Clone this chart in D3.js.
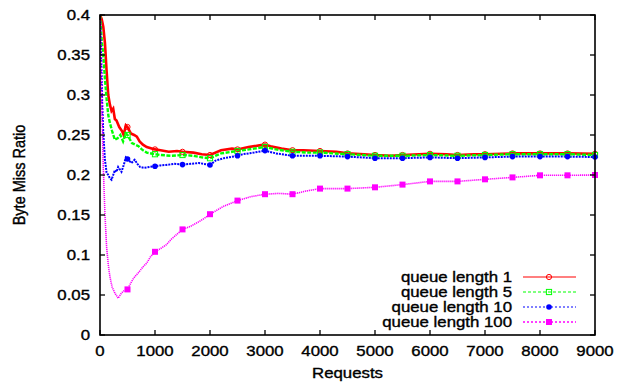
<!DOCTYPE html>
<html>
<head>
<meta charset="utf-8">
<script src="https://cdn.jsdelivr.net/npm/d3@7"></script>
<style>
  body { margin: 0; background: #fff; }
  svg { display: block; }
  text { font-family: "Liberation Sans", Arial, sans-serif; fill: #000; stroke: #000; stroke-width: 0.35px; }
</style>
</head>
<body>
<svg id="chart" width="632" height="388"></svg>
<script>
// [requests, byte miss ratio]
const queue1 = [[0,0.40],[30,0.395],[60,0.385],[90,0.365],[120,0.33],[150,0.30],[180,0.288],[210,0.28],[240,0.283],[270,0.27],[300,0.268],[350,0.26],[400,0.255],[430,0.25],[470,0.262],[500,0.26],[560,0.252],[620,0.25],[670,0.248],[720,0.242],[780,0.238],[850,0.235],[1000,0.232],[1100,0.231],[1250,0.229],[1400,0.23],[1500,0.229],[1700,0.228],[1850,0.226],[2000,0.225],[2200,0.231],[2400,0.233],[2500,0.232],[2700,0.235],[2900,0.237],[3000,0.238],[3100,0.236],[3300,0.233],[3500,0.231],[3700,0.231],[4000,0.23],[4300,0.229],[4500,0.227],[4800,0.226],[5000,0.225],[5300,0.224],[5500,0.225],[5800,0.226],[6000,0.2265],[6300,0.226],[6500,0.225],[6800,0.226],[7000,0.226],[7500,0.227],[8000,0.227],[8500,0.227],[9000,0.2265]];
const queue5 = [[0,0.40],[30,0.37],[60,0.35],[90,0.32],[120,0.295],[150,0.275],[180,0.265],[220,0.255],[270,0.244],[320,0.246],[370,0.25],[420,0.242],[470,0.252],[500,0.25],[580,0.24],[640,0.238],[700,0.236],[760,0.232],[850,0.228],[1000,0.226],[1100,0.225],[1300,0.224],[1500,0.225],[1700,0.224],[1850,0.222],[2000,0.221],[2200,0.227],[2400,0.229],[2500,0.23],[2800,0.233],[3000,0.235],[3200,0.232],[3500,0.229],[3800,0.228],[4000,0.228],[4500,0.226],[5000,0.224],[5500,0.224],[6000,0.225],[6500,0.224],[7000,0.225],[7500,0.226],[8000,0.226],[8500,0.226],[9000,0.225]];
const queue10 = [[0,0.40],[20,0.35],[40,0.29],[60,0.252],[90,0.219],[120,0.203],[150,0.20],[180,0.196],[210,0.194],[240,0.2],[270,0.206],[300,0.204],[330,0.21],[360,0.207],[390,0.204],[430,0.212],[470,0.222],[500,0.22],[570,0.215],[630,0.219],[680,0.214],[730,0.21],[800,0.209],[900,0.21],[1000,0.211],[1100,0.212],[1200,0.2125],[1350,0.214],[1500,0.213],[1650,0.214],[1800,0.215],[2000,0.2125],[2100,0.218],[2250,0.221],[2500,0.224],[2600,0.226],[2800,0.228],[3000,0.2305],[3200,0.227],[3500,0.224],[3800,0.224],[4000,0.224],[4500,0.223],[5000,0.221],[5500,0.221],[6000,0.222],[6500,0.221],[7000,0.222],[7500,0.223],[8000,0.223],[8500,0.223],[9000,0.2225]];
const queue100 = [[0,0.40],[30,0.30],[60,0.21],[90,0.152],[120,0.11],[150,0.088],[180,0.073],[220,0.06],[270,0.0525],[330,0.046],[390,0.0525],[450,0.056],[500,0.057],[560,0.065],[610,0.071],[700,0.078],[780,0.085],[850,0.09],[920,0.098],[1000,0.104],[1100,0.108],[1200,0.1125],[1300,0.12],[1400,0.126],[1500,0.132],[1650,0.136],[1800,0.1417],[1900,0.146],[2000,0.151],[2250,0.161],[2500,0.168],[2750,0.173],[3000,0.176],[3250,0.177],[3500,0.176],[3750,0.18],[4000,0.183],[4500,0.183],[5000,0.1846],[5500,0.188],[6000,0.192],[6500,0.192],[7000,0.1946],[7500,0.197],[8000,0.1996],[8500,0.1996],[9000,0.2]];

const seriesNames = ["queue length 1", "queue length 5", "queue length 10", "queue length 100"];
const xTicks = [0, 1000, 2000, 3000, 4000, 5000, 6000, 7000, 8000, 9000];
const yTicks = [0, 0.05, 0.1, 0.15, 0.2, 0.25, 0.3, 0.35, 0.4];

const series = [
  { name: seriesNames[0], data: queue1, color: "#ff0000", dash: null, width: 2.6, marker: "circle-open" },
  { name: seriesNames[1], data: queue5, color: "#00ff00", dash: "4,1.5", width: 2.4, marker: "square-open" },
  { name: seriesNames[2], data: queue10, color: "#0000ff", dash: "2,1", width: 2, marker: "circle" },
  { name: seriesNames[3], data: queue100, color: "#ff00ff", dash: "1.2,0.8", width: 1.6, marker: "square" }
];

const svg = d3.select("#chart");
const pLeft = 100, pRight = 595, pTop = 15, pBottom = 335;
const sx = 1.2; // reference text is stretched horizontally

const x = d3.scaleLinear().domain([0, 9000]).range([pLeft, pRight]);
const y = d3.scaleLinear().domain([0, 0.4]).range([pBottom, pTop]);

function label(g, tx, ty, str, anchor) {
  return g.append("text")
    .attr("transform", `translate(${tx},${ty}) scale(${sx},1)`)
    .attr("text-anchor", anchor)
    .style("font-size", "14px")
    .text(str);
}

svg.append("clipPath").attr("id", "plot")
  .append("rect").attr("x", pLeft).attr("y", pTop).attr("width", pRight - pLeft).attr("height", pBottom - pTop);

// curves
const line = d3.line().x(d => x(d[0])).y(d => y(d[1]));
const curves = svg.append("g").attr("clip-path", "url(#plot)");
series.forEach(s => {
  curves.append("path")
    .datum(s.data)
    .attr("fill", "none")
    .attr("stroke", s.color)
    .attr("stroke-width", s.width)
    .attr("stroke-dasharray", s.dash)
    .attr("d", line);
});

function drawMarker(g, s, cx, cy) {
  if (s.marker === "circle-open") {
    g.append("circle").attr("cx", cx).attr("cy", cy).attr("r", 2.6)
      .attr("fill", "none").attr("stroke", s.color).attr("stroke-width", 1);
  } else if (s.marker === "square-open") {
    g.append("rect").attr("x", cx - 2.6).attr("y", cy - 2.6).attr("width", 5.2).attr("height", 5.2)
      .attr("fill", "none").attr("stroke", s.color).attr("stroke-width", 1);
  } else if (s.marker === "circle") {
    g.append("circle").attr("cx", cx).attr("cy", cy).attr("r", 2.8).attr("fill", s.color);
  } else {
    g.append("rect").attr("x", cx - 3).attr("y", cy - 3).attr("width", 6).attr("height", 6).attr("fill", s.color);
  }
}

// markers every 500 requests
const marks = svg.append("g");
series.forEach(s => {
  s.data.filter(d => d[0] > 0 && d[0] % 500 === 0)
    .forEach(d => drawMarker(marks, s, x(d[0]), y(d[1])));
});

// frame and inward ticks
const axes = svg.append("g").attr("stroke", "#000").attr("stroke-width", 1.3);
axes.append("rect").attr("x", pLeft).attr("y", pTop).attr("width", pRight - pLeft).attr("height", pBottom - pTop)
  .attr("fill", "none").attr("stroke-width", 1.6);
xTicks.forEach(t => {
  axes.append("line").attr("x1", x(t)).attr("x2", x(t)).attr("y1", pBottom).attr("y2", pBottom - 5);
  axes.append("line").attr("x1", x(t)).attr("x2", x(t)).attr("y1", pTop).attr("y2", pTop + 5);
});
yTicks.forEach(t => {
  axes.append("line").attr("x1", pLeft).attr("x2", pLeft + 5).attr("y1", y(t)).attr("y2", y(t));
  axes.append("line").attr("x1", pRight).attr("x2", pRight - 5).attr("y1", y(t)).attr("y2", y(t));
});

const texts = svg.append("g");
xTicks.forEach(t => label(texts, x(t), 356, String(t), "middle"));
yTicks.forEach(t => label(texts, 90, y(t) + 5, String(t), "end"));
label(texts, (pLeft + pRight) / 2, 378, "Requests", "middle");
texts.append("text")
  .attr("transform", `translate(25,${(pTop + pBottom) / 2}) rotate(-90) scale(1,${sx})`)
  .attr("text-anchor", "middle")
  .style("font-size", "14.5px")
  .text("Byte Miss Ratio");

// legend
const legend = svg.append("g");
series.forEach((s, i) => {
  const ly = 277 + i * 15;
  label(legend, 512, ly + 5, s.name, "end");
  legend.append("line").attr("x1", 523).attr("x2", 576).attr("y1", ly).attr("y2", ly)
    .attr("stroke", s.color).attr("stroke-width", i === 3 ? 1.6 : 1.2)
    .attr("stroke-dasharray", i === 0 ? null : (i === 1 ? "3,2" : "2,2"));
  drawMarker(legend, s, 549, ly);
});
</script>
</body>
</html>
